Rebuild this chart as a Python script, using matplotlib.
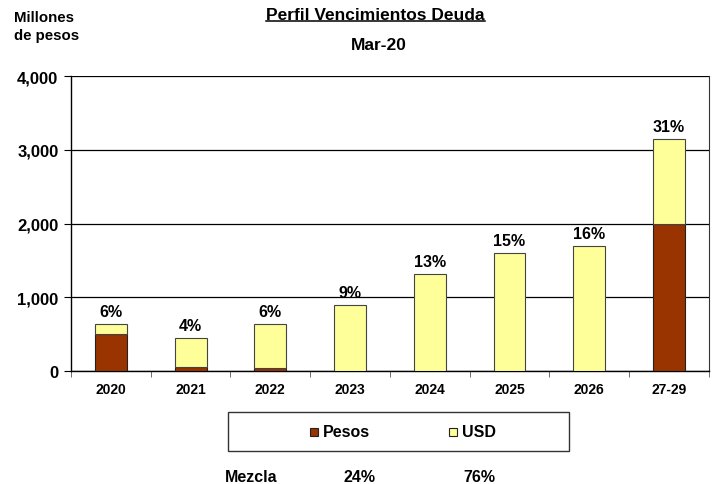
import numpy as np
import matplotlib.pyplot as plt
from matplotlib.lines import Line2D
from matplotlib.patches import Rectangle

plt.rcParams['font.family'] = ['Liberation Sans', 'DejaVu Sans']
plt.rcParams['font.weight'] = 'bold'

# Data
years = ["2020", "2021", "2022", "2023", "2024", "2025", "2026", "27-29"]
pesos = [505, 50, 40, 0, 0, 0, 0, 2000]
usd = [130, 400, 595, 895, 1315, 1600, 1695, 1150]
shares = ["6%", "4%", "6%", "9%", "13%", "15%", "16%", "31%"]
series_names = ["Pesos", "USD"]
mix_labels = ["Mezcla", "24%", "76%"]

pesos_color = "#993300"
usd_color = "#FFFF99"

fig = plt.figure(figsize=(7.15, 4.85), dpi=100)
ax = fig.add_axes([0.0993, 0.233, 0.892, 0.608])

x = np.arange(len(years))
totals = np.array(pesos) + np.array(usd)
ax.bar(x, pesos, width=0.4, color=pesos_color, edgecolor="#222222", linewidth=0.8, zorder=3)
ax.bar(x, usd, width=0.4, bottom=pesos, color=usd_color, edgecolor="#444444", linewidth=0.8, zorder=3)

for xi, t, s in zip(x, totals, shares):
    ax.text(xi, t + 70, s, ha="center", va="bottom", fontsize=11.5, fontweight="bold")

ax.set_xlim(-0.5, len(years) - 0.5)
ax.set_ylim(0, 4000)
ax.set_yticks(np.arange(0, 4001, 1000))
ax.set_yticklabels([f"{v:,}" for v in range(0, 4001, 1000)], fontsize=12, fontweight="bold")
ax.yaxis.grid(True, color="black", linewidth=0.9, zorder=0)
ax.set_axisbelow(True)

ax.set_xticks(x)
ax.set_xticklabels(years, fontsize=10, fontweight="bold")
ax.tick_params(axis="x", length=0, pad=8)
ax.set_xticks(np.arange(-0.5, len(years)), minor=True)
ax.tick_params(axis="x", which="minor", length=4, direction="out", color="#555555")
ax.tick_params(axis="y", length=5, direction="out", pad=4)
for side in ["left", "bottom"]:
    ax.spines[side].set_color("black")
    ax.spines[side].set_linewidth(1.0)
ax.spines["top"].set_visible(False)
ax.spines["right"].set_color("#333333")

# Titles
title = fig.text(0.525, 0.968, "Perfil Vencimientos Deuda", ha="center", va="center",
                 fontsize=12.5, fontweight="bold")
fig.text(0.53, 0.907, "Mar-20", ha="center", va="center", fontsize=12.5, fontweight="bold")
fig.text(0.02, 0.962, "Millones", ha="left", va="center", fontsize=10.8, fontweight="bold")
fig.text(0.02, 0.926, "de pesos", ha="left", va="center", fontsize=10.8, fontweight="bold")

fig.canvas.draw()
bb = title.get_window_extent().transformed(fig.transFigure.inverted())
fig.add_artist(Line2D([bb.x0, bb.x1], [bb.y0 + 0.003, bb.y0 + 0.003], color="black",
                      linewidth=1.1, transform=fig.transFigure))

# Legend box drawn by hand to match the wide frame
fig.add_artist(Rectangle((0.319, 0.068), 0.477, 0.080, transform=fig.transFigure,
                         facecolor="white", edgecolor="#333333", linewidth=1.0))
sq_w, sq_h = 0.0115, 0.0165
for xs, col, name in zip([0.4335, 0.628], [pesos_color, usd_color], series_names):
    fig.add_artist(Rectangle((xs, 0.108 - sq_h / 2), sq_w, sq_h, transform=fig.transFigure,
                             facecolor=col, edgecolor="#222222", linewidth=0.8))
    fig.text(xs + sq_w + 0.006, 0.108, name, ha="left", va="center", fontsize=11.5,
             fontweight="bold")

# Mix row
for xpos, lbl in zip([0.352, 0.503, 0.671], mix_labels):
    fig.text(xpos, 0.016, lbl, ha="center", va="center", fontsize=11.5, fontweight="bold")

fig.savefig("out.png", dpi=100)
